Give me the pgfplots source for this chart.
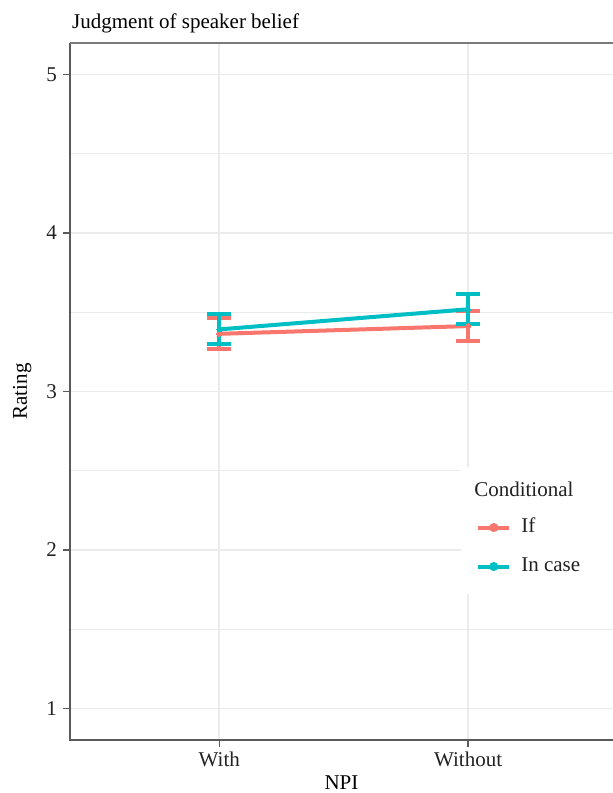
\documentclass[border=0pt]{standalone}
\usepackage{fontspec}
\setmainfont{Liberation Serif}
\usepackage{pgfplots}
\pgfplotsset{compat=1.18}
\usepackage{pgfplotstable}
\definecolor{ifred}{HTML}{F8766D}
\definecolor{icteal}{HTML}{00BFC4}
\definecolor{gridc}{HTML}{EBEBEB}
\definecolor{framec}{HTML}{5A5A5A}
\definecolor{txt}{HTML}{222222}

\pgfplotstableread{
x y e
1 3.364 0.098
2 3.413 0.095
}\ifdata
\pgfplotstableread{
x y e
1 3.392 0.095
2 3.519 0.095
}\incasedata

\begin{document}
\fontsize{21bp}{25bp}\selectfont
\begin{tikzpicture}[font=\fontsize{21bp}{25bp}\selectfont]
\useasboundingbox (-70bp,-53bp) rectangle (543bp,740bp);
\begin{axis}[
  at={(0,0)}, anchor=south west,
  scale only axis, width=543bp, height=697bp,
  xmin=0.4, xmax=2.5823, ymin=0.8, ymax=5.2,
  xtick={1,2}, xticklabels={With,Without},
  ytick={1,2,3,4,5},
  minor ytick={1.5,2.5,3.5,4.5},
  grid=both,
  major grid style={gridc, line width=1.6bp},
  minor grid style={gridc, line width=0.9bp},
  axis line style={draw=none},
  tick align=outside, xtick pos=left, ytick pos=left,
  major tick length=7bp, minor tick length=0pt,
  major tick style={framec, line width=1.5bp},
  ticklabel style={font=\fontsize{21bp}{25bp}\selectfont, text=txt},
  xticklabel style={inner sep=0pt, anchor=base, yshift=-19bp},
  yticklabel style={inner sep=0pt, anchor=east, xshift=-6bp},
  /pgf/number format/assume math mode=true,
  clip=false,
  title={Judgment of speaker belief},
  title style={at={(rel axis cs:0,1)}, anchor=base west, inner sep=0pt, xshift=2bp, yshift=9bp, font=\fontsize{21bp}{25bp}\selectfont, text=black},
  xlabel={NPI},
  xlabel style={at={(rel axis cs:0.5,0)}, anchor=base, inner sep=0pt, yshift=-49bp, font=\fontsize{21bp}{25bp}\selectfont, text=black},
  ylabel={Rating},
  every axis y label/.style={at={(rel axis cs:0,0.5)}, xshift=-43bp, rotate=90, anchor=base, inner sep=0pt, font=\fontsize{21bp}{25bp}\selectfont, text=black},
  legend style={draw=none, fill=none, at={(axis cs:2.032,2.2025)}, anchor=north west, inner sep=0pt, row sep=20bp,
    nodes={inner sep=0pt, font=\fontsize{21bp}{25bp}\selectfont, text=txt, text height=14bp, text depth=5bp},
    /tikz/every odd column/.append style={column sep=10bp}},
  legend cell align=left,
  legend image code/.code={\draw[mark=none, line width=4bp] (0bp,0bp) -- (31bp,0bp); \fill (15.5bp,0bp) circle (2.4bp);},
]
\fill[white] (axis cs:1.972,1.722) rectangle (axis cs:2.5823,2.525);
\node[anchor=base west, inner sep=0pt, text=txt] at (axis cs:2.024,2.3354) {Conditional};

\addplot[ifred, line width=4bp, mark=*, mark size=2.4bp, mark options={line width=0pt},
  error bars/.cd, y dir=both, y explicit,
  error bar style={line width=4bp},
  error mark options={rotate=90, mark size=12bp, line width=4bp}]
  table[x=x, y=y, y error=e] {\ifdata};
\addlegendentry{If}
\addplot[icteal, line width=4bp, mark=*, mark size=2.4bp, mark options={line width=0pt},
  error bars/.cd, y dir=both, y explicit,
  error bar style={line width=4bp},
  error mark options={rotate=90, mark size=12bp, line width=4bp}]
  table[x=x, y=y, y error=e] {\incasedata};
\addlegendentry{In case}

\draw[framec, line width=1.6bp] (rel axis cs:0,1) -- (rel axis cs:0,0) -- (rel axis cs:1,0);
\draw[framec!80, line width=1.6bp] (rel axis cs:0,1) -- (rel axis cs:1,1);
\end{axis}
\end{tikzpicture}
\end{document}
